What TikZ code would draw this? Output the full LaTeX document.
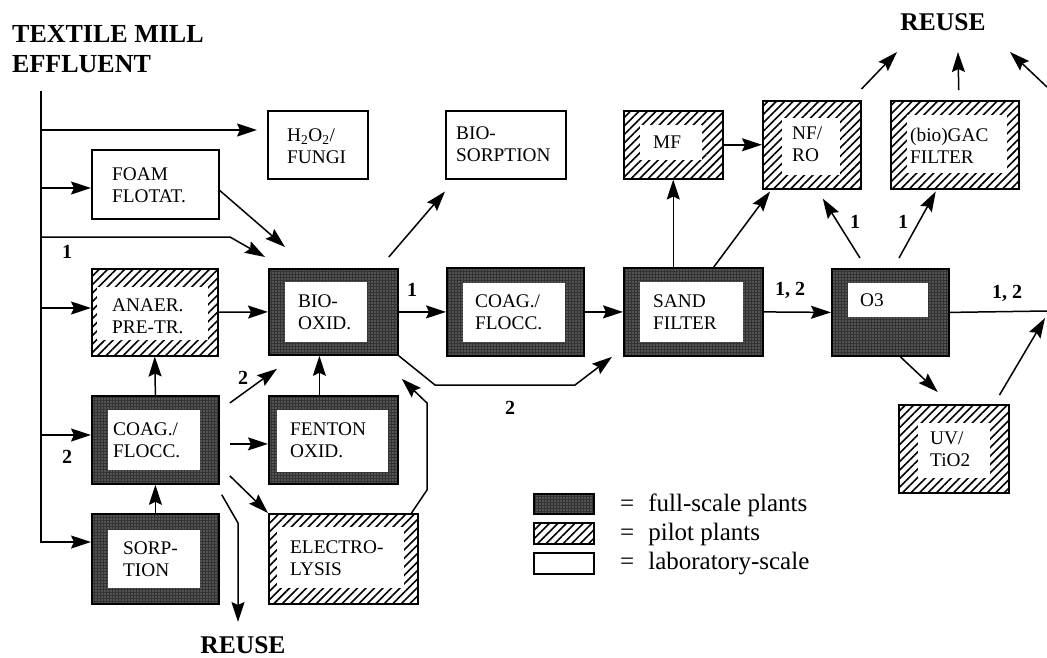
\documentclass[tikz,border=0pt]{standalone}
\usepackage{fontspec}
\setmainfont{Liberation Serif}
\usetikzlibrary{arrows.meta,patterns.meta,calc}

\newcommand\bxfont{\fontsize{19.3}{22}\selectfont}
\newcommand\lbfont{\fontsize{20}{22}\selectfont\bfseries}
\newcommand\bgfont{\fontsize{25.5}{30}\selectfont\bfseries}
\newcommand\lgfont{\fontsize{25}{28}\selectfont}

\tikzset{
  fullsty/.style={draw, line width=1.8pt, inner sep=0pt,
    preaction={fill=black!80},
    preaction={pattern={Dots[distance=3pt,radius=0.7pt]}, pattern color=black!25}},
  pilotsty/.style={draw, line width=1.5pt, inner sep=0pt,
    preaction={fill=white},
    preaction={pattern={Lines[angle=45,distance=6pt,line width=1.6pt]}}},
  labsty/.style={draw, line width=1.5pt, inner sep=0pt, fill=white},
  btxt/.style={inner sep=0pt, align=left, font=\bxfont, anchor=west},
  lbl/.style={inner sep=0pt, font=\lbfont},
  bigtxt/.style={inner sep=0pt, font=\bgfont, anchor=base},
  lgtxt/.style={inner sep=0pt, font=\lgfont, anchor=base west},
  arr/.style={line width=1.5pt, -{Stealth[length=20pt,width=13pt,inset=3pt]}},
  ln/.style={line width=1.5pt},
}

\newcommand\fullbx[9]{%
  \node[fullsty,anchor=north west,minimum width={#4-#2},minimum height={#5-#3}] (#1) at (#2,#3) {};
  \fill[white] (#6,#7) rectangle (#8,#9);}
\newcommand\pilotbx[9]{%
  \node[pilotsty,anchor=north west,minimum width={#4-#2},minimum height={#5-#3}] (#1) at (#2,#3) {};
  \fill[white] (#6,#7) rectangle (#8,#9);}
\newcommand\labbx[5]{%
  \node[labsty,anchor=north west,minimum width={#4-#2},minimum height={#5-#3}] (#1) at (#2,#3) {};}
\newcommand\boxtxt[4]{\node[btxt] (#1) at (#2,#3) {#4};}

\begin{document}
\begin{tikzpicture}[x=1pt,y=-1pt]
\useasboundingbox (0,0) rectangle (1047,657);

% title
\node[inner sep=0pt, font=\fontsize{26}{30}\selectfont\bfseries, anchor=base west] (tt1) at (12,42) {TEXTILE MILL};
\node[inner sep=0pt, font=\fontsize{26}{30}\selectfont\bfseries, anchor=base west] (tt2) at (12,72) {EFFLUENT};

% boxes
\labbx{h2o2}{267}{110}{367}{178}
\boxtxt{h2o2t}{287}{146}{H\textsubscript{2}O\textsubscript{2}/\\FUNGI}
\labbx{foam}{91}{149}{218}{218}
\boxtxt{foamt}{112}{185}{FOAM\\FLOTAT.}
\pilotbx{anaer}{91}{268}{217}{355}{97}{287}{208}{340}
\boxtxt{anaert}{112}{316}{ANAER.\\PRE-TR.}
\fullbx{bio}{268}{268}{397}{354}{285}{282}{367}{342}
\boxtxt{biot}{298}{312}{BIO-\\OXID.}
\labbx{bsorp}{445}{110}{565}{178}
\boxtxt{bsorpt}{456}{144}{BIO-\\SORPTION}
\fullbx{coagm}{446}{267}{583}{355}{463}{283}{565}{342}
\boxtxt{coagmt}{475}{312}{COAG./\\FLOCC.}
\fullbx{sand}{623}{267}{762}{355}{640}{282}{743}{342}
\boxtxt{sandt}{653}{312}{SAND\\FILTER}
\pilotbx{mf}{623}{110}{722}{178}{640}{125}{702}{160}
\boxtxt{mft}{653}{142}{MF}
\pilotbx{nfro}{762}{100}{860}{188}{782}{118}{840}{175}
\boxtxt{nfrot}{792}{144}{NF/\\RO}
\pilotbx{gac}{890}{100}{1018}{188}{907}{115}{1007}{173}
\boxtxt{gact}{910}{146}{(bio)GAC\\FILTER}
\fullbx{othree}{831}{268}{948}{355}{848}{283}{928}{317}
\boxtxt{othreet}{860}{300}{O3}
\pilotbx{uv}{898}{404}{1008}{492}{918}{423}{990}{478}
\boxtxt{uvt}{930}{449}{UV/\\TiO2}
\fullbx{coagl}{91}{395}{218}{483}{108}{410}{200}{470}
\boxtxt{coaglt}{113}{440}{COAG./\\FLOCC.}
\fullbx{sorp}{91}{513}{218}{603}{108}{530}{200}{588}
\boxtxt{sorpt}{123}{559}{SORP-\\TION}
\fullbx{fent}{268}{395}{397}{483}{277}{410}{388}{472}
\boxtxt{fentt}{290}{440}{FENTON\\OXID.}
\pilotbx{elec}{268}{513}{417}{603}{277}{527}{404}{588}
\boxtxt{elect}{290}{558}{ELECTRO-\\LYSIS}

% source trunk and branches
\coordinate (trT) at (41,91);
\coordinate (trB) at (41,542);
\coordinate (b1) at (41,130);
\coordinate (b2) at (41,188);
\coordinate (b3) at (41,237);
\coordinate (b3k) at (230,237);
\coordinate (b4) at (41,308);
\coordinate (b5) at (41,435);
\draw[arr] (trT) -- (trB) -- (trB -| sorp.west);
\draw[arr] (b1) -- ($(b1 -| h2o2.west)+(-10,0)$);
\draw[arr] (b2) -- (b2 -| foam.west);
\draw[arr] (b3) -- (b3k) -- ($(bio.north west)+(-3,-11)$);
\draw[arr] (b4) -- (b4 -| anaer.west);
\draw[arr] (b5) -- (b5 -| coagl.west);
\node[lbl] (l1) at (67,252) {1};
\node[lbl] (l2) at (67,457) {2};

% left part
\draw[arr] ($(foam.east)+(0,6)$) -- ($(bio.north west)+(17,-21)$);
\draw[arr] (anaer.east) -- (bio.west);
\draw[arr] (coagl.north) -- (anaer.south);
\draw[arr] (sorp.north) -- (coagl.south);
\draw[arr] ($(coagl.east)+(10,4)$) -- ($(fent.west)+(0,4)$);
\draw[arr] ($(coagl.north east)+(10,8)$) -- ($(bio.south west)+(9,13)$);
\node[lbl] (l3) at (243,378) {2};
\draw[arr] ($(coagl.south east)+(10,-9)$) -- (elec.north west);
\coordinate (rb) at (238,523);
\coordinate (rbe) at (238,622);
\draw[arr] ($(coagl.south east)+(2,10)$) -- (rb) -- (rbe);
\node[bigtxt] (reuseB) at (243,653) {REUSE};
\draw[arr] ($(fent.north)+(-14,0)$) -- ($(bio.south)+(-14,0)$);
\coordinate (e1) at (427,490);
\coordinate (e2) at (427,403);
\draw[arr] ($(elec.north east)+(-7,0)$) -- (e1) -- (e2) -- ($(bio.south east)+(3,23)$);

% middle
\coordinate (s1) at (435,385);
\coordinate (s2) at (575,385);
\draw[arr] (bio.south east) -- (s1) -- (s2) -- ($(sand.south west)+(-11,0)$);
\node[lbl] (l4) at (510,408) {2};
\draw[arr] ($(bio.north east)+(-10,-11)$) -- ($(bsorp.south west)+(0,12)$);
\draw[arr] (bio.east) -- (coagm.west);
\node[lbl] (l5) at (412,290) {1};
\draw[arr] (coagm.east) -- (sand.west);
\draw[arr] (sand.north -| mf.south) -- (mf.south);
\draw[arr] (mf.east) -- (nfro.west);
\draw[arr] ($(sand.north east)+(-50,0)$) -- ($(nfro.south west)+(8,2)$);
\draw[arr] (sand.east) -- (othree.west);
\node[lbl] (l6) at (790,290) {1, 2};

% right
\draw[arr] ($(othree.north west)+(29,-10)$) -- ($(nfro.south)+(11,9)$);
\draw[arr] ($(othree.north west)+(68,-10)$) -- ($(gac.south)+(-19,2)$);
\node[lbl] (l7) at (855,222) {1};
\node[lbl] (l8) at (903,222) {1};
\coordinate (rE) at (1047,311);
\draw[ln] (othree.east) -- (rE);
\node[lbl] (l9) at (1007,293) {1, 2};
\draw[arr] ($(othree.south)+(10,0)$) -- ($(uv.north)+(-16,-12)$);
\coordinate (rA) at (1045,318);
\draw[arr] ($(uv.north east)+(-10,-9)$) -- (rA);
\node[bigtxt] (reuseT) at (943,30) {REUSE};
\coordinate (t1) at (897,52);
\draw[arr] ($(nfro.north east)+(0,-11)$) -- (t1);
\coordinate (t2) at (958,52);
\draw[arr] ($(gac.north)+(4,-10)$) -- (t2);
\coordinate (t3) at (1047,87);
\coordinate (t4) at (1010,52);
\draw[arr] (t3) -- (t4);

% legend
\node[fullsty,anchor=north west,minimum width=60,minimum height=20] (lgf) at (533,493) {};
\node[pilotsty,anchor=north west,minimum width=60,minimum height=21] (lgp) at (533,522) {};
\node[labsty,anchor=north west,minimum width=60,minimum height=21] (lgl) at (533,552) {};
\node[lgtxt] (lgft) at (620,511) {=\hspace{14pt}full-scale plants};
\node[lgtxt] (lgpt) at (620,540) {=\hspace{14pt}pilot plants};
\node[lgtxt] (lglt) at (620,569) {=\hspace{14pt}laboratory-scale};
\end{tikzpicture}
\end{document}
